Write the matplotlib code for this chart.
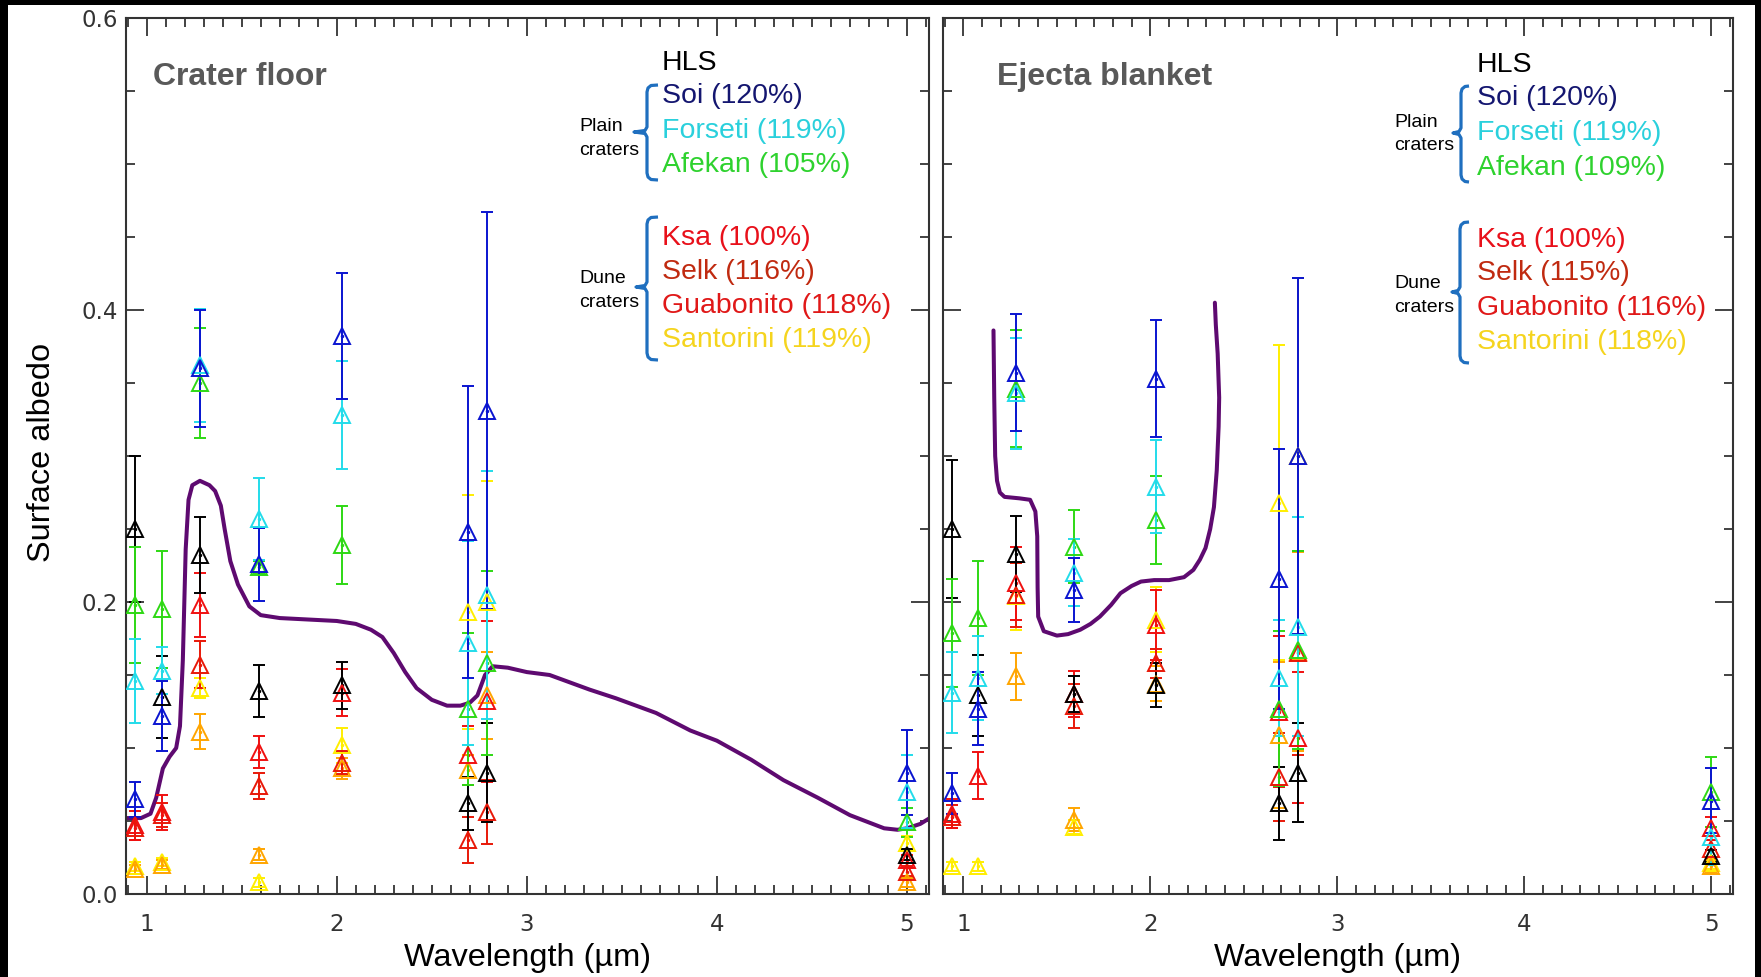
import matplotlib
matplotlib.use("Agg")
import matplotlib.pyplot as plt
import numpy as np
from matplotlib.lines import Line2D
from matplotlib.patches import Rectangle
from matplotlib.ticker import MultipleLocator, FormatStrFormatter

W, H = 1761, 977

# ---------------- data ----------------
wavelengths = [0.94, 1.08, 1.28, 1.59, 2.03, 2.69, 2.79, 5.0]
series_names = ["HLS", "Soi", "Forseti", "Afekan", "Ksa", "Selk", "Guabonito", "Santorini"]
nan = float("nan")

# Crater floor (value, error)
floor_hls = [0.250, 0.135, 0.232, 0.139, 0.143, 0.062, 0.083, 0.027]
floor_hls_err = [0.050, 0.028, 0.026, 0.018, 0.016, 0.018, 0.034, 0.004]
floor_soi = [0.065, 0.122, 0.360, 0.226, 0.382, 0.248, 0.331, 0.083]
floor_soi_err = [0.012, 0.024, 0.040, 0.025, 0.043, 0.100, 0.136, 0.029]
floor_forseti = [0.146, 0.153, 0.362, 0.257, 0.328, 0.172, 0.205, 0.070]
floor_forseti_err = [0.029, 0.016, 0.039, 0.028, 0.037, 0.070, 0.085, 0.025]
floor_afekan = [0.198, 0.195, 0.350, 0.224, 0.239, 0.127, 0.158, 0.049]
floor_afekan_err = [0.040, 0.040, 0.038, 0.004, 0.027, 0.052, 0.063, 0.010]
floor_ksa = [0.047, 0.056, 0.198, 0.097, 0.138, 0.095, 0.132, 0.023]
floor_ksa_err = [0.010, 0.012, 0.022, 0.011, 0.016, 0.020, 0.055, 0.004]
floor_selk = [0.045, 0.054, 0.157, 0.074, 0.090, 0.037, 0.056, 0.015]
floor_selk_err = [0.008, 0.008, 0.016, 0.009, 0.008, 0.016, 0.022, 0.003]
floor_guabonito = [0.017, 0.020, 0.111, 0.027, 0.086, 0.085, 0.136, 0.008]
floor_guabonito_err = [0.003, 0.003, 0.012, 0.004, 0.007, 0.010, 0.030, 0.003]
floor_santorini = [0.019, 0.022, 0.141, 0.008, 0.102, 0.193, 0.200, 0.035]
floor_santorini_err = [0.003, 0.003, 0.007, 0.003, 0.012, 0.080, 0.083, 0.005]

# Ejecta blanket (value, error)
ejecta_hls = [0.250, 0.136, 0.233, 0.137, 0.143, 0.062, 0.083, 0.026]
ejecta_hls_err = [0.047, 0.028, 0.026, 0.012, 0.015, 0.025, 0.034, 0.004]
ejecta_soi = [0.069, 0.127, 0.357, 0.208, 0.353, 0.216, 0.300, 0.064]
ejecta_soi_err = [0.014, 0.025, 0.040, 0.022, 0.040, 0.089, 0.122, 0.022]
ejecta_forseti = [0.138, 0.148, 0.343, 0.220, 0.279, 0.148, 0.183, 0.039]
ejecta_forseti_err = [0.028, 0.029, 0.038, 0.023, 0.032, 0.040, 0.075, 0.019]
ejecta_afekan = [0.179, 0.189, 0.346, 0.238, 0.256, 0.127, 0.167, 0.070]
ejecta_afekan_err = [0.037, 0.039, 0.040, 0.025, 0.030, 0.053, 0.068, 0.024]
ejecta_ksa = [0.055, 0.081, 0.213, 0.137, 0.184, 0.125, 0.107, 0.045]
ejecta_ksa_err = [0.010, 0.016, 0.025, 0.016, 0.024, 0.052, 0.045, 0.008]
ejecta_selk = [0.053, nan, 0.205, 0.129, 0.158, 0.080, 0.165, 0.031]
ejecta_selk_err = [0.008, nan, 0.022, 0.015, 0.010, 0.030, 0.070, 0.006]
ejecta_guabonito = [nan, nan, 0.149, 0.051, 0.144, 0.109, 0.166, 0.019]
ejecta_guabonito_err = [nan, nan, 0.016, 0.008, 0.012, 0.050, 0.068, 0.004]
ejecta_santorini = [0.019, 0.019, 0.204, 0.046, 0.188, 0.268, 0.300, 0.021]
ejecta_santorini_err = [0.003, 0.003, 0.023, 0.005, 0.022, 0.108, 0.122, 0.004]

# Purple reference spectra
floor_curve_wl = [0.89, 0.97, 1.02, 1.05, 1.085, 1.12, 1.155, 1.175, 1.19, 1.205, 1.22, 1.24,
                  1.28, 1.33, 1.36, 1.39, 1.41, 1.44, 1.48, 1.54, 1.60, 1.70, 1.85, 2.00,
                  2.10, 2.18, 2.24, 2.30, 2.36, 2.42, 2.50, 2.58, 2.65, 2.70, 2.74, 2.78,
                  2.82, 2.90, 3.00, 3.12, 3.33, 3.47, 3.68, 3.86, 4.00, 4.18, 4.35, 4.53,
                  4.70, 4.80, 4.88, 4.95, 5.00, 5.07, 5.12]
floor_curve_alb = [0.052, 0.052, 0.055, 0.066, 0.086, 0.094, 0.100, 0.115, 0.160, 0.236, 0.270, 0.280,
                   0.283, 0.280, 0.276, 0.266, 0.250, 0.228, 0.212, 0.197, 0.191, 0.189, 0.188, 0.187,
                   0.185, 0.181, 0.176, 0.165, 0.152, 0.141, 0.133, 0.129, 0.129, 0.131, 0.136, 0.150,
                   0.156, 0.155, 0.152, 0.150, 0.140, 0.134, 0.124, 0.112, 0.105, 0.092, 0.078, 0.066,
                   0.054, 0.049, 0.045, 0.044, 0.045, 0.048, 0.052]
ejecta_curve_wl = [1.161, 1.165, 1.17, 1.18, 1.195, 1.22, 1.30, 1.357, 1.385, 1.395, 1.397, 1.40,
                   1.43, 1.50, 1.56, 1.625, 1.68, 1.73, 1.79, 1.84, 1.90, 1.95, 2.02, 2.10,
                   2.18, 2.23, 2.265, 2.295, 2.32, 2.34, 2.355, 2.365, 2.368, 2.36, 2.35, 2.345]
ejecta_curve_alb = [0.386, 0.340, 0.300, 0.283, 0.275, 0.272, 0.271, 0.270, 0.262, 0.245, 0.210, 0.190,
                    0.180, 0.177, 0.178, 0.181, 0.185, 0.190, 0.198, 0.206, 0.211, 0.214, 0.215, 0.215,
                    0.217, 0.222, 0.229, 0.237, 0.250, 0.265, 0.290, 0.320, 0.340, 0.370, 0.390, 0.405]

floor_labels = ["Soi (120%)", "Forseti (119%)", "Afekan (105%)",
                "Ksa (100%)", "Selk (116%)", "Guabonito (118%)", "Santorini (119%)"]
ejecta_labels = ["Soi (120%)", "Forseti (119%)", "Afekan (109%)",
                 "Ksa (100%)", "Selk (115%)", "Guabonito (116%)", "Santorini (118%)"]

# ---------------- styles ----------------
marker_colors = {"HLS": "#000000", "Soi": "#0a14d0", "Forseti": "#22dcea", "Afekan": "#2ed814",
                 "Ksa": "#f01010", "Selk": "#e81808", "Guabonito": "#ffa500", "Santorini": "#ffee00"}
text_colors = ["#141670", "#2ad0dc", "#2ed22e", "#e8101a", "#c02a10", "#e01818", "#f5d41e"]
draw_order = ["Santorini", "Guabonito", "Selk", "Ksa", "HLS", "Afekan", "Forseti", "Soi"]

floor_data = {"HLS": (floor_hls, floor_hls_err), "Soi": (floor_soi, floor_soi_err),
              "Forseti": (floor_forseti, floor_forseti_err), "Afekan": (floor_afekan, floor_afekan_err),
              "Ksa": (floor_ksa, floor_ksa_err), "Selk": (floor_selk, floor_selk_err),
              "Guabonito": (floor_guabonito, floor_guabonito_err),
              "Santorini": (floor_santorini, floor_santorini_err)}
ejecta_data = {"HLS": (ejecta_hls, ejecta_hls_err), "Soi": (ejecta_soi, ejecta_soi_err),
               "Forseti": (ejecta_forseti, ejecta_forseti_err), "Afekan": (ejecta_afekan, ejecta_afekan_err),
               "Ksa": (ejecta_ksa, ejecta_ksa_err), "Selk": (ejecta_selk, ejecta_selk_err),
               "Guabonito": (ejecta_guabonito, ejecta_guabonito_err),
               "Santorini": (ejecta_santorini, ejecta_santorini_err)}

SANS = ["Liberation Sans", "DejaVu Sans"]
TICKF = ["DejaVu Sans"]
plt.rcParams["font.family"] = SANS

fig = plt.figure(figsize=(W / 100, H / 100), dpi=100)
fig.patch.set_facecolor("black")
fig.patches.append(Rectangle((8 / W, 0), (1755 - 8) / W, 1 - 5 / H, transform=fig.transFigure,
                             facecolor="white", edgecolor="none", zorder=-10))


def fx(x):
    return x / W


def fy(y):
    return 1 - y / H


def make_axes(x0, x1):
    ax = fig.add_axes([fx(x0), fy(894), (x1 - x0) / W, (894 - 18) / H])
    ax.set_facecolor("white")
    ax.set_xlim(0.891, 5.116)
    ax.set_ylim(0, 0.6)
    ax.xaxis.set_major_locator(MultipleLocator(1))
    ax.xaxis.set_minor_locator(MultipleLocator(0.1))
    ax.yaxis.set_major_locator(MultipleLocator(0.2))
    ax.yaxis.set_minor_locator(MultipleLocator(0.05))
    ax.yaxis.set_major_formatter(FormatStrFormatter("%.1f"))
    ax.tick_params(which="both", direction="in", top=True, right=True, color="#222222", width=1.2)
    ax.tick_params(which="major", length=13)
    ax.tick_params(which="minor", length=6.5)
    ax.tick_params(axis="x", pad=14, labelsize=16.5, labelcolor="#333333")
    ax.tick_params(axis="y", pad=6, labelsize=16.5, labelcolor="#333333")
    for s in ax.spines.values():
        s.set_color("#333333")
        s.set_linewidth(1.5)
    return ax


ax1 = make_axes(126, 929)
ax2 = make_axes(943, 1733)
ax2.tick_params(labelleft=False)


def draw_panel(ax, data, cwl, calb):
    ax.plot(cwl, calb, color="#5e0a70", lw=2.9, zorder=2, solid_capstyle="round")
    for name in draw_order:
        vals, errs = data[name]
        c = marker_colors[name]
        ax.errorbar(wavelengths, vals, yerr=errs, fmt="^", ms=11.5, mfc="none", mec=c, mew=1.4,
                    ecolor=c, elinewidth=1.4, capsize=4, capthick=1.4, zorder=3)
        ax.plot(wavelengths, vals, ".", color=c, ms=3, zorder=3)


draw_panel(ax1, floor_data, floor_curve_wl, floor_curve_alb)
draw_panel(ax2, ejecta_data, ejecta_curve_wl, ejecta_curve_alb)

for ax in (ax1, ax2):
    for lab in ax.get_xticklabels() + ax.get_yticklabels():
        lab.set_family(TICKF)

# panel titles
fig.text(fx(153), fy(85), "Crater floor", fontsize=23, fontweight="bold", color="#595959",
         va="baseline", ha="left")
fig.text(fx(997), fy(85), "Ejecta blanket", fontsize=23, fontweight="bold", color="#595959",
         va="baseline", ha="left")

# axis labels
fig.text(fx(42), fy(452), "Surface albedo", fontsize=23.4, rotation=90, va="center", ha="center")
fig.text(fx(527), fy(966), "Wavelength (µm)", fontsize=23.4, va="baseline", ha="center")
fig.text(fx(1338), fy(966), "Wavelength (µm)", fontsize=23.4, va="baseline", ha="center")


def bracket(xr, xs, xn, yt, ym, yb):
    pts = [(xr, yt), (xs + 4, yt + 0.5), (xs + 1, yt + 3), (xs, yt + 7),
           (xs, ym - 5), (xs - 2, ym - 1.5), (xn, ym), (xs - 2, ym + 1.5), (xs, ym + 5),
           (xs, yb - 7), (xs + 1, yb - 3), (xs + 4, yb - 0.5), (xr, yb)]
    xs_ = [fx(p[0]) for p in pts]
    ys_ = [fy(p[1]) for p in pts]
    fig.lines.append(Line2D(xs_, ys_, transform=fig.transFigure, color="#1f6fbf", lw=2.3,
                            solid_joinstyle="round", solid_capstyle="butt"))


def legend_block(xt, base, labels, xg, gb):
    fig.text(fx(xt), fy(base[0]), "HLS", fontsize=20.5, color="black", va="baseline", ha="left")
    for lab, col, yb in zip(labels, text_colors, base[1:]):
        fig.text(fx(xt), fy(yb), lab, fontsize=20.5, color=col, va="baseline", ha="left")
    fig.text(fx(xg), fy(gb[0]), "Plain", fontsize=14, va="baseline", ha="left")
    fig.text(fx(xg), fy(gb[1]), "craters", fontsize=14, va="baseline", ha="left")
    fig.text(fx(xg), fy(gb[2]), "Dune", fontsize=14, va="baseline", ha="left")
    fig.text(fx(xg), fy(gb[3]), "craters", fontsize=14, va="baseline", ha="left")


legend_block(662, [70, 103, 138, 172, 245, 279, 313, 347], floor_labels, 579, [131, 155, 283, 307])
legend_block(1477, [72, 105, 140, 175, 247, 280, 315, 349], ejecta_labels, 1394, [127, 150, 288, 312])
bracket(658, 647, 634, 85, 132, 180)
bracket(658, 647, 636, 217, 287, 360)
bracket(1469, 1461, 1453, 86, 133, 182)
bracket(1469, 1460, 1452, 222, 292, 363)

fig.savefig("out.png", dpi=100, facecolor=fig.get_facecolor())
